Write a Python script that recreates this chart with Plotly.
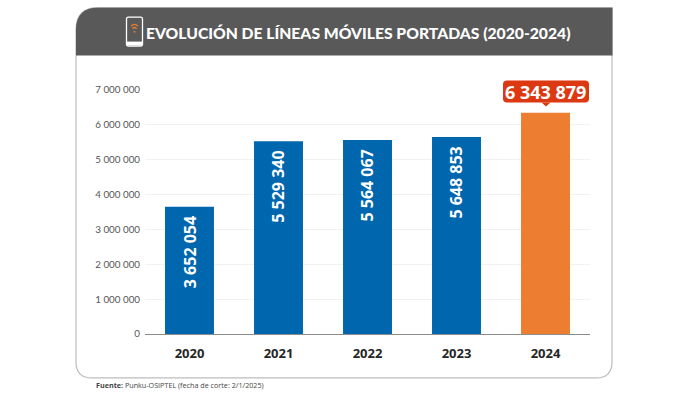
import plotly.graph_objects as go

years = ["2020", "2021", "2022", "2023", "2024"]
lines_ported = [3652054, 5529340, 5564067, 5648853, 6343879]
bar_colors = ["#0066AD", "#0066AD", "#0066AD", "#0066AD", "#ED7D31"]
tick_values = [0, 1000000, 2000000, 3000000, 4000000, 5000000, 6000000, 7000000]
title_text = "EVOLUCIÓN DE LÍNEAS MÓVILES PORTADAS (2020-2024)"
source_bold = "Fuente:"
source_text = "Punku-OSIPTEL (fecha de corte: 2/1/2025)"

W, H = 700, 395
L, R, T, B = 145, 590, 89.5, 334


def fmt(v):
    return f"{v:,}".replace(",", " ")


def px(x):
    return (x - L) / (R - L)


def py(y):
    return (B - y) / (B - T)


def path(cmds):
    out = []
    for c in cmds:
        if c == "Z":
            out.append("Z")
        else:
            op, *pts = c
            coords = " ".join(f"{px(pts[i]):.5f},{py(pts[i + 1]):.5f}" for i in range(0, len(pts), 2))
            out.append(f"{op} {coords}")
    return " ".join(out)


def rrect(x0, y0, x1, y1, tl=0, tr=0, br=0, bl=0):
    return [
        ("M", x0 + tl, y0), ("L", x1 - tr, y0), ("Q", x1, y0, x1, y0 + tr),
        ("L", x1, y1 - br), ("Q", x1, y1, x1 - br, y1),
        ("L", x0 + bl, y1), ("Q", x0, y1, x0, y1 - bl),
        ("L", x0, y0 + tl), ("Q", x0, y0, x0 + tl, y0), "Z",
    ]


def shp(cmds, fill="rgba(0,0,0,0)", line=None, width=0, layer="below"):
    return dict(type="path", xref="paper", yref="paper", path=path(cmds), fillcolor=fill,
                line=dict(color=line or "rgba(0,0,0,0)", width=width), layer=layer)


shapes = [
    shp(rrect(76, 7, 612, 378, tl=22, br=16, bl=16), fill="#FFFFFF", line="#BDBDBD", width=1.2),
    shp(rrect(76, 7, 612.5, 55, tl=22), fill="#595959"),
    # phone icon
    shp(rrect(126.5, 16.5, 142.5, 45.5, tl=2, tr=2, br=2, bl=2), fill="#595959", line="#FFFFFF", width=1.3),
    shp([("M", 127, 41), ("L", 142, 41), ("L", 142, 45), ("L", 127, 45), "Z"], fill="#FFFFFF"),
    shp([("M", 131, 25.5), ("Q", 134.5, 22, 138, 25.5)], line="#ED7D31", width=1.3),
    shp([("M", 132.3, 28), ("Q", 134.5, 25.7, 136.7, 28)], line="#ED7D31", width=1.3),
    shp([("M", 133.7, 30.3), ("L", 135.3, 30.3), ("L", 135.3, 32), ("L", 133.7, 32), "Z"], fill="#ED7D31"),
    # callout
    shp(rrect(503, 80, 589, 102, tl=4, tr=4, br=4, bl=4), fill="#DC3812", layer="above"),
    shp([("M", 541.5, 102), ("L", 546, 106), ("L", 550.5, 102), "Z"], fill="#DC3812", layer="above"),
]

fig = go.Figure(go.Bar(x=years, y=lines_ported, marker=dict(color=bar_colors, line=dict(width=0)),
                       width=0.55, hoverinfo="skip"))

annotations = [
    dict(xref="paper", yref="paper", x=px(358), y=py(32), text=title_text, showarrow=False,
         font=dict(family="Lato", size=15.7, color="#FFFFFF", weight=900), xanchor="center", yanchor="middle"),
    dict(xref="paper", yref="paper", x=px(94), y=py(385), xanchor="left", yanchor="middle", showarrow=False,
         text=f"<b>{source_bold}</b> {source_text}", font=dict(family="Open Sans", size=7.2, color="#444444")),
]
# numeric-looking category labels are addressed by their index on the axis
for i, val in enumerate(lines_ported[:-1]):
    annotations.append(dict(x=i, y=val, xref="x", yref="y", text=f"<b>{fmt(val)}</b>", textangle=-90,
                            showarrow=False, yanchor="top", xanchor="center", yshift=-8,
                            font=dict(family="Open Sans", size=16, color="#FFFFFF")))
annotations.append(dict(x=len(years) - 1, y=lines_ported[-1], xref="x", yref="y", text=f"<b>{fmt(lines_ported[-1])}</b>",
                        showarrow=False, yanchor="middle", xanchor="center", yshift=21,
                        font=dict(family="Open Sans", size=18, color="#FFFFFF")))

fig.update_layout(
    width=W, height=H, autosize=False,
    margin=dict(l=L, r=W - R, t=T, b=H - B, pad=0),
    paper_bgcolor="#FFFFFF", plot_bgcolor="rgba(0,0,0,0)",
    showlegend=False, shapes=shapes, annotations=annotations,
    xaxis=dict(type="category", categoryorder="array", categoryarray=years, range=[-0.5, 4.5],
               tickmode="array", tickvals=years, ticktext=years, ticklabelstandoff=7,
               showgrid=False, showline=True, linecolor="#8C8C8C", linewidth=1, ticks="",
               tickfont=dict(family="Open Sans", size=13, color="#262626", weight="bold"), zeroline=False),
    yaxis=dict(range=[0, 7000000], tickvals=tick_values, ticktext=[fmt(v) for v in tick_values],
               showgrid=True, gridcolor="#F2F2F2", gridwidth=1, zeroline=False, showline=False, ticks="",
               ticklabelstandoff=4, tickfont=dict(family="Lato", size=9.8, color="#555555")),
)

fig.write_html("out.html", config=dict(displayModeBar=False),
               post_script="document.body.style.margin='0';")
